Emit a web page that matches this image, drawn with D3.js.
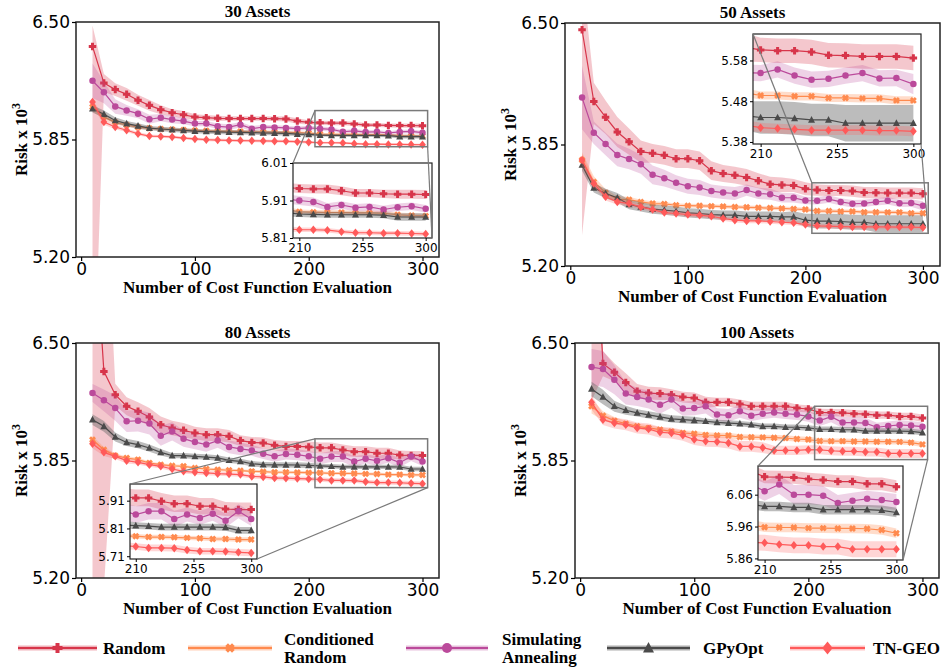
<!DOCTYPE html>
<html>
<head>
<meta charset="utf-8">
<script src="https://cdnjs.cloudflare.com/ajax/libs/d3/7.8.5/d3.min.js"></script>
<style>
  body { margin: 0; background: #fff; }
  .tick text { font-family: "DejaVu Sans", sans-serif; fill: #000; }
  .serif { font-family: "Liberation Serif", "Times New Roman", serif; font-weight: bold; fill: #000; }
</style>
</head>
<body>
<svg id="chart" width="944" height="671"></svg>
<script>
// x positions: number of cost function evaluations
const evals = [10, 20, 30, 40, 50, 60, 70, 80, 90, 100, 110, 120, 130, 140, 150, 160, 170, 180, 190, 200, 210, 220, 230, 240, 250, 260, 270, 280, 290, 300];

// ---- 30 assets ----
const p30RandomMean = [6.365, 6.163, 6.126, 6.100, 6.067, 6.039, 6.015, 5.998, 5.987, 5.974, 5.971, 5.967, 5.966, 5.966, 5.966, 5.966, 5.965, 5.964, 5.952, 5.945, 5.942, 5.941, 5.941, 5.936, 5.930, 5.930, 5.928, 5.927, 5.927, 5.926];
const p30RandomUp = [0.115, 0.05, 0.035, 0.035, 0.03, 0.03, 0.025, 0.02, 0.02, 0.015, 0.015, 0.015, 0.012, 0.012, 0.012, 0.012, 0.012, 0.014, 0.015, 0.012, 0.012, 0.012, 0.012, 0.012, 0.011, 0.011, 0.011, 0.012, 0.012, 0.012];
const p30RandomDown = [2.1, 0.05, 0.035, 0.035, 0.03, 0.03, 0.025, 0.02, 0.02, 0.015, 0.015, 0.015, 0.012, 0.012, 0.012, 0.012, 0.012, 0.014, 0.015, 0.012, 0.012, 0.012, 0.012, 0.012, 0.011, 0.011, 0.011, 0.012, 0.012, 0.012];
const p30CondMean = [6.030, 5.975, 5.945, 5.930, 5.918, 5.912, 5.908, 5.905, 5.903, 5.900, 5.898, 5.896, 5.895, 5.894, 5.893, 5.892, 5.890, 5.889, 5.888, 5.886, 5.880, 5.879, 5.878, 5.878, 5.877, 5.877, 5.876, 5.872, 5.870, 5.869];
const p30CondSd = [0.025, 0.015, 0.012, 0.01, 0.01, 0.008, 0.008, 0.008, 0.008, 0.008, 0.008, 0.008, 0.008, 0.008, 0.008, 0.008, 0.008, 0.008, 0.008, 0.008, 0.006, 0.006, 0.006, 0.006, 0.006, 0.006, 0.006, 0.006, 0.006, 0.006];
const p30SaMean = [6.175, 6.111, 6.033, 6.011, 5.993, 5.962, 5.971, 5.960, 5.952, 5.938, 5.938, 5.923, 5.919, 5.932, 5.910, 5.919, 5.917, 5.914, 5.910, 5.914, 5.910, 5.906, 5.893, 5.898, 5.891, 5.893, 5.886, 5.892, 5.895, 5.888];
const p30SaSd = [0.095, 0.06, 0.04, 0.03, 0.025, 0.025, 0.02, 0.02, 0.018, 0.015, 0.015, 0.015, 0.015, 0.015, 0.015, 0.012, 0.012, 0.012, 0.012, 0.012, 0.012, 0.012, 0.01, 0.01, 0.01, 0.01, 0.01, 0.01, 0.01, 0.01];
const p30GpMean = [6.020, 5.990, 5.955, 5.938, 5.925, 5.913, 5.908, 5.904, 5.900, 5.896, 5.894, 5.892, 5.890, 5.889, 5.888, 5.886, 5.885, 5.884, 5.880, 5.878, 5.874, 5.873, 5.872, 5.872, 5.872, 5.872, 5.871, 5.866, 5.866, 5.866];
const p30GpSd = [0.02, 0.02, 0.018, 0.015, 0.015, 0.012, 0.012, 0.012, 0.012, 0.012, 0.012, 0.012, 0.012, 0.012, 0.012, 0.012, 0.012, 0.012, 0.01, 0.01, 0.008, 0.008, 0.008, 0.008, 0.008, 0.008, 0.008, 0.01, 0.01, 0.01];
const p30TnMean = [6.057, 5.947, 5.919, 5.901, 5.882, 5.869, 5.867, 5.864, 5.858, 5.853, 5.849, 5.847, 5.845, 5.844, 5.843, 5.842, 5.841, 5.840, 5.838, 5.835, 5.832, 5.832, 5.831, 5.827, 5.824, 5.824, 5.823, 5.823, 5.822, 5.821];
const p30TnSd = [0.02, 0.015, 0.012, 0.01, 0.01, 0.008, 0.008, 0.008, 0.008, 0.008, 0.008, 0.008, 0.008, 0.008, 0.008, 0.008, 0.008, 0.008, 0.008, 0.008, 0.006, 0.006, 0.006, 0.006, 0.006, 0.006, 0.006, 0.006, 0.006, 0.006];

// ---- 50 assets ----
const p50RandomMean = [6.464, 6.080, 5.996, 5.917, 5.865, 5.812, 5.803, 5.792, 5.774, 5.774, 5.763, 5.710, 5.695, 5.686, 5.674, 5.656, 5.638, 5.634, 5.631, 5.613, 5.606, 5.604, 5.604, 5.601, 5.593, 5.592, 5.590, 5.590, 5.590, 5.586];
const p50RandomUp = [0.3, 0.1, 0.09, 0.08, 0.07, 0.06, 0.05, 0.05, 0.05, 0.05, 0.05, 0.05, 0.045, 0.045, 0.045, 0.04, 0.04, 0.04, 0.035, 0.035, 0.03, 0.03, 0.03, 0.03, 0.03, 0.03, 0.03, 0.03, 0.03, 0.03];
const p50RandomDown = [1.1, 0.12, 0.09, 0.08, 0.07, 0.06, 0.05, 0.05, 0.05, 0.05, 0.05, 0.05, 0.045, 0.045, 0.045, 0.04, 0.04, 0.04, 0.035, 0.035, 0.03, 0.03, 0.03, 0.03, 0.03, 0.03, 0.03, 0.03, 0.03, 0.03];
const p50CondMean = [5.767, 5.650, 5.592, 5.558, 5.555, 5.543, 5.534, 5.532, 5.525, 5.523, 5.522, 5.520, 5.518, 5.516, 5.514, 5.512, 5.510, 5.508, 5.505, 5.502, 5.494, 5.494, 5.492, 5.492, 5.488, 5.488, 5.487, 5.487, 5.482, 5.482];
const p50CondSd = [0.04, 0.03, 0.02, 0.015, 0.015, 0.012, 0.012, 0.01, 0.01, 0.01, 0.01, 0.01, 0.01, 0.01, 0.01, 0.01, 0.01, 0.01, 0.01, 0.01, 0.01, 0.01, 0.01, 0.01, 0.01, 0.01, 0.01, 0.01, 0.01, 0.01];
const p50SaMean = [6.101, 5.913, 5.853, 5.794, 5.772, 5.744, 5.688, 5.670, 5.645, 5.627, 5.620, 5.601, 5.593, 5.588, 5.606, 5.588, 5.584, 5.565, 5.565, 5.550, 5.549, 5.558, 5.543, 5.533, 5.535, 5.543, 5.549, 5.536, 5.537, 5.522];
const p50SaSd = [0.17, 0.06, 0.06, 0.06, 0.055, 0.05, 0.05, 0.045, 0.04, 0.04, 0.04, 0.035, 0.035, 0.035, 0.03, 0.03, 0.03, 0.025, 0.025, 0.02, 0.02, 0.02, 0.02, 0.02, 0.02, 0.02, 0.02, 0.02, 0.02, 0.025];
const p50GpMean = [5.740, 5.618, 5.588, 5.565, 5.529, 5.516, 5.504, 5.499, 5.493, 5.484, 5.481, 5.475, 5.472, 5.472, 5.466, 5.466, 5.466, 5.463, 5.463, 5.445, 5.440, 5.440, 5.438, 5.434, 5.434, 5.426, 5.426, 5.426, 5.426, 5.426];
const p50GpSd = [0.03, 0.025, 0.025, 0.025, 0.025, 0.025, 0.025, 0.025, 0.025, 0.025, 0.025, 0.025, 0.025, 0.025, 0.025, 0.025, 0.025, 0.025, 0.03, 0.035, 0.04, 0.04, 0.04, 0.04, 0.04, 0.045, 0.045, 0.045, 0.045, 0.045];
const p50TnMean = [5.767, 5.642, 5.570, 5.543, 5.534, 5.516, 5.502, 5.486, 5.481, 5.475, 5.472, 5.466, 5.454, 5.445, 5.441, 5.441, 5.438, 5.434, 5.431, 5.422, 5.415, 5.413, 5.411, 5.409, 5.409, 5.409, 5.409, 5.408, 5.408, 5.406];
const p50TnSd = [0.03, 0.02, 0.02, 0.015, 0.015, 0.012, 0.012, 0.012, 0.012, 0.012, 0.012, 0.012, 0.012, 0.012, 0.012, 0.012, 0.012, 0.012, 0.012, 0.012, 0.012, 0.012, 0.012, 0.012, 0.012, 0.012, 0.012, 0.012, 0.012, 0.012];

// ---- 80 assets ----
const p80RandomMean = [7.32, 6.343, 6.214, 6.150, 6.122, 6.091, 6.048, 6.030, 6.017, 6.002, 5.993, 5.993, 5.984, 5.960, 5.950, 5.947, 5.934, 5.928, 5.928, 5.925, 5.920, 5.920, 5.908, 5.899, 5.899, 5.890, 5.890, 5.880, 5.878, 5.878];
const p80RandomUp = [1.5, 1.2, 0.06, 0.05, 0.05, 0.05, 0.045, 0.04, 0.04, 0.035, 0.035, 0.035, 0.035, 0.03, 0.03, 0.03, 0.03, 0.03, 0.03, 0.03, 0.03, 0.03, 0.03, 0.03, 0.03, 0.03, 0.03, 0.025, 0.025, 0.025];
const p80RandomDown = [3.0, 1.2, 0.06, 0.05, 0.05, 0.05, 0.045, 0.04, 0.04, 0.035, 0.035, 0.035, 0.035, 0.03, 0.03, 0.03, 0.03, 0.03, 0.03, 0.03, 0.03, 0.03, 0.03, 0.03, 0.03, 0.03, 0.03, 0.025, 0.025, 0.025];
const p80CondMean = [5.965, 5.910, 5.877, 5.864, 5.855, 5.836, 5.827, 5.821, 5.818, 5.809, 5.803, 5.799, 5.796, 5.794, 5.790, 5.788, 5.785, 5.785, 5.784, 5.783, 5.782, 5.779, 5.779, 5.778, 5.776, 5.775, 5.772, 5.772, 5.770, 5.770];
const p80CondSd = [0.02, 0.015, 0.012, 0.01, 0.01, 0.008, 0.008, 0.008, 0.008, 0.008, 0.008, 0.008, 0.008, 0.008, 0.008, 0.008, 0.008, 0.008, 0.008, 0.008, 0.008, 0.008, 0.008, 0.008, 0.008, 0.008, 0.008, 0.008, 0.008, 0.008];
const p80SaMean = [6.223, 6.183, 6.140, 6.067, 6.070, 6.054, 5.987, 6.011, 5.971, 5.952, 5.938, 5.960, 5.925, 5.914, 5.906, 5.888, 5.873, 5.886, 5.882, 5.873, 5.860, 5.872, 5.872, 5.844, 5.860, 5.848, 5.863, 5.838, 5.872, 5.844];
const p80SaSd = [0.05, 0.06, 0.07, 0.06, 0.06, 0.06, 0.055, 0.05, 0.045, 0.04, 0.04, 0.04, 0.035, 0.035, 0.03, 0.03, 0.03, 0.03, 0.03, 0.03, 0.03, 0.03, 0.03, 0.03, 0.025, 0.025, 0.025, 0.025, 0.025, 0.025];
const p80GpMean = [6.076, 6.039, 5.980, 5.950, 5.938, 5.919, 5.895, 5.877, 5.877, 5.873, 5.869, 5.864, 5.851, 5.845, 5.832, 5.827, 5.826, 5.826, 5.825, 5.823, 5.820, 5.818, 5.815, 5.815, 5.815, 5.815, 5.815, 5.814, 5.803, 5.803];
const p80GpSd = [0.03, 0.03, 0.025, 0.02, 0.02, 0.02, 0.018, 0.015, 0.015, 0.015, 0.015, 0.015, 0.015, 0.015, 0.015, 0.015, 0.015, 0.015, 0.015, 0.015, 0.012, 0.012, 0.012, 0.012, 0.012, 0.012, 0.012, 0.012, 0.012, 0.012];
const p80TnMean = [5.943, 5.895, 5.873, 5.849, 5.840, 5.827, 5.818, 5.803, 5.790, 5.785, 5.781, 5.777, 5.775, 5.772, 5.762, 5.759, 5.753, 5.752, 5.750, 5.748, 5.745, 5.740, 5.740, 5.739, 5.732, 5.728, 5.728, 5.727, 5.724, 5.722];
const p80TnSd = [0.025, 0.02, 0.015, 0.015, 0.012, 0.012, 0.012, 0.012, 0.012, 0.012, 0.012, 0.012, 0.012, 0.012, 0.012, 0.012, 0.012, 0.012, 0.012, 0.012, 0.012, 0.012, 0.012, 0.012, 0.012, 0.012, 0.012, 0.012, 0.012, 0.012];

// ---- 100 assets ----
const p100RandomMean = [7.53, 6.386, 6.338, 6.282, 6.233, 6.223, 6.220, 6.214, 6.201, 6.196, 6.172, 6.172, 6.172, 6.163, 6.150, 6.150, 6.150, 6.150, 6.140, 6.135, 6.116, 6.115, 6.114, 6.109, 6.106, 6.101, 6.101, 6.094, 6.094, 6.085];
const p100RandomUp = [1.0, 0.07, 0.05, 0.05, 0.04, 0.035, 0.035, 0.03, 0.03, 0.03, 0.03, 0.025, 0.025, 0.025, 0.025, 0.025, 0.025, 0.025, 0.02, 0.02, 0.02, 0.02, 0.02, 0.02, 0.02, 0.02, 0.02, 0.02, 0.02, 0.02];
const p100RandomDown = [1.35, 0.07, 0.05, 0.05, 0.04, 0.035, 0.035, 0.03, 0.03, 0.03, 0.03, 0.025, 0.025, 0.025, 0.025, 0.025, 0.025, 0.025, 0.02, 0.02, 0.02, 0.02, 0.02, 0.02, 0.02, 0.02, 0.02, 0.02, 0.02, 0.02];
const p100CondMean = [6.150, 6.098, 6.070, 6.054, 6.039, 6.030, 6.021, 6.011, 6.002, 5.998, 5.991, 5.989, 5.988, 5.980, 5.979, 5.978, 5.976, 5.974, 5.969, 5.966, 5.958, 5.957, 5.957, 5.955, 5.955, 5.954, 5.954, 5.953, 5.949, 5.939];
const p100CondSd = [0.04, 0.025, 0.02, 0.015, 0.015, 0.015, 0.015, 0.015, 0.015, 0.015, 0.015, 0.015, 0.015, 0.015, 0.015, 0.015, 0.015, 0.015, 0.015, 0.015, 0.015, 0.015, 0.015, 0.015, 0.015, 0.015, 0.015, 0.015, 0.015, 0.015];
const p100SaMean = [6.367, 6.356, 6.297, 6.220, 6.201, 6.187, 6.159, 6.187, 6.137, 6.140, 6.150, 6.104, 6.100, 6.122, 6.098, 6.109, 6.116, 6.109, 6.104, 6.094, 6.071, 6.092, 6.060, 6.060, 6.057, 6.034, 6.041, 6.047, 6.043, 6.037];
const p100SaSd = [0.1, 0.1, 0.08, 0.06, 0.05, 0.05, 0.05, 0.045, 0.04, 0.04, 0.04, 0.035, 0.035, 0.035, 0.03, 0.03, 0.03, 0.03, 0.03, 0.03, 0.03, 0.03, 0.03, 0.03, 0.03, 0.025, 0.025, 0.025, 0.025, 0.025];
const p100GpMean = [6.246, 6.201, 6.150, 6.128, 6.113, 6.102, 6.091, 6.080, 6.076, 6.072, 6.067, 6.061, 6.057, 6.054, 6.048, 6.039, 6.039, 6.034, 6.034, 6.030, 6.023, 6.023, 6.020, 6.020, 6.013, 6.013, 6.013, 6.013, 6.011, 6.004];
const p100GpSd = [0.04, 0.04, 0.03, 0.025, 0.02, 0.02, 0.02, 0.02, 0.02, 0.02, 0.015, 0.015, 0.015, 0.015, 0.015, 0.015, 0.015, 0.015, 0.015, 0.015, 0.015, 0.015, 0.015, 0.015, 0.015, 0.015, 0.015, 0.015, 0.015, 0.015];
const p100TnMean = [6.172, 6.076, 6.057, 6.048, 6.030, 6.024, 6.006, 6.002, 5.989, 5.966, 5.956, 5.954, 5.947, 5.928, 5.928, 5.921, 5.906, 5.906, 5.906, 5.910, 5.909, 5.904, 5.901, 5.901, 5.897, 5.897, 5.889, 5.889, 5.889, 5.889];
const p100TnSd = [0.04, 0.03, 0.03, 0.03, 0.03, 0.03, 0.03, 0.03, 0.03, 0.03, 0.03, 0.03, 0.03, 0.03, 0.03, 0.03, 0.025, 0.025, 0.025, 0.025, 0.025, 0.025, 0.025, 0.025, 0.025, 0.025, 0.025, 0.025, 0.025, 0.025];

const mainYTicks = [5.20, 5.85, 6.50];
const mainXTicks = [0, 100, 200, 300];
const insetXTicks = [210, 255, 300];

const methods = [
  { key: 'random', label: ['Random'], color: '#d7354a', band: '#d7354a', bandOpacity: 0.28, marker: 'plus' },
  { key: 'cond', label: ['Conditioned', 'Random'], color: '#ff8a4e', band: '#ff8a4e', bandOpacity: 0.3, marker: 'x' },
  { key: 'sa', label: ['Simulating', 'Annealing'], color: '#bb4a9b', band: '#bb4a9b', bandOpacity: 0.25, marker: 'circle' },
  { key: 'gp', label: ['GPyOpt'], color: '#4a4a4a', band: '#6a6a6a', bandOpacity: 0.45, marker: 'triangle' },
  { key: 'tn', label: ['TN-GEO'], color: '#ff5a5a', band: '#ff5a5a', bandOpacity: 0.25, marker: 'diamond' }
];

const panels = [
  { title: '30 Assets', frame: [76, 22, 439, 257], inset: [293, 163, 432, 238], insetY: [5.81, 6.01], insetTicks: [5.81, 5.91, 6.01],
    data: { random: [p30RandomMean, p30RandomUp, p30RandomDown], cond: [p30CondMean, p30CondSd], sa: [p30SaMean, p30SaSd], gp: [p30GpMean, p30GpSd], tn: [p30TnMean, p30TnSd] } },
  { title: '50 Assets', frame: [565, 23, 940, 266], inset: [753, 34, 921, 144], insetY: [5.375, 5.645], insetTicks: [5.38, 5.48, 5.58],
    data: { random: [p50RandomMean, p50RandomUp, p50RandomDown], cond: [p50CondMean, p50CondSd], sa: [p50SaMean, p50SaSd], gp: [p50GpMean, p50GpSd], tn: [p50TnMean, p50TnSd] } },
  { title: '80 Assets', frame: [76, 343, 439, 578], inset: [130, 484, 257, 559], insetY: [5.70, 5.97], insetTicks: [5.71, 5.81, 5.91],
    data: { random: [p80RandomMean, p80RandomUp, p80RandomDown], cond: [p80CondMean, p80CondSd], sa: [p80SaMean, p80SaSd], gp: [p80GpMean, p80GpSd], tn: [p80TnMean, p80TnSd] } },
  { title: '100 Assets', frame: [575, 343, 939, 578], inset: [758, 466, 903, 560], insetY: [5.855, 6.15], insetTicks: [5.86, 5.96, 6.06],
    data: { random: [p100RandomMean, p100RandomUp, p100RandomDown], cond: [p100CondMean, p100CondSd], sa: [p100SaMean, p100SaSd], gp: [p100GpMean, p100GpSd], tn: [p100TnMean, p100TnSd] } }
];

function markerPath(type, s) {
  if (type === 'plus' || type === 'x') {
    const a = s / 2, t = s * 0.2;
    let pts = [[-t, -a], [t, -a], [t, -t], [a, -t], [a, t], [t, t], [t, a], [-t, a], [-t, t], [-a, t], [-a, -t], [-t, -t]];
    if (type === 'x') pts = pts.map(([px, py]) => [(px - py) * Math.SQRT1_2, (px + py) * Math.SQRT1_2]);
    return 'M' + pts.map(p => p[0].toFixed(2) + ',' + p[1].toFixed(2)).join('L') + 'Z';
  }
  if (type === 'circle') { const r = s / 2; return `M${r},0A${r},${r} 0 1,1 ${-r},0A${r},${r} 0 1,1 ${r},0Z`; }
  if (type === 'triangle') return `M0,${-s * 0.55}L${s / 2},${s * 0.4}L${-s / 2},${s * 0.4}Z`;
  const a = s / 2;
  return `M0,${-a}L${a * 0.8},0L0,${a}L${-a * 0.8},0Z`;
}
const markerSize = { plus: 7.5, x: 7, circle: 6.5, triangle: 7, diamond: 8.5 };

const svg = d3.select('#chart');
const defs = svg.append('defs');
let clipCount = 0;

function drawSeries(g, x, y, p, x0, y0, w, h) {
  const id = 'clip' + (clipCount++);
  defs.append('clipPath').attr('id', id).append('rect').attr('x', x0).attr('y', y0).attr('width', w).attr('height', h);
  const cg = g.append('g').attr('clip-path', `url(#${id})`);
  methods.forEach(m => {
    const [mean, up, down0] = p.data[m.key];
    const down = down0 || up;
    const area = d3.area()
      .x((d, i) => x(evals[i]))
      .y0((d, i) => y(d - down[i]))
      .y1((d, i) => y(d + up[i]));
    cg.append('path').datum(mean).attr('d', area).attr('fill', m.band).attr('fill-opacity', m.bandOpacity);
    const line = d3.line().x((d, i) => x(evals[i])).y(d => y(d));
    cg.append('path').datum(mean).attr('d', line).attr('fill', 'none').attr('stroke', m.color).attr('stroke-width', 1.2);
    cg.selectAll(null).data(mean).join('path')
      .attr('transform', (d, i) => `translate(${x(evals[i])},${y(d)})`)
      .attr('d', markerPath(m.marker, markerSize[m.marker]))
      .attr('fill', m.color);
  });
}

panels.forEach(p => {
  const [L, T, R, B] = p.frame;
  const g = svg.append('g');
  const x = d3.scaleLinear().domain([-4.5, 314.5]).range([L, R]);
  const y = d3.scaleLinear().domain([5.2, 6.5]).range([B, T]);

  drawSeries(g, x, y, p, L, T, R - L, B - T);

  g.append('rect').attr('x', L).attr('y', T).attr('width', R - L).attr('height', B - T)
    .attr('fill', 'none').attr('stroke', '#222').attr('stroke-width', 1.5);

  const xa = g.append('g').attr('transform', `translate(0,${B})`)
    .call(d3.axisBottom(x).tickValues(mainXTicks).tickSize(4).tickPadding(1.5));
  const ya = g.append('g').attr('transform', `translate(${L},0)`)
    .call(d3.axisLeft(y).tickValues(mainYTicks).tickSize(4).tickPadding(2).tickFormat(d3.format('.2f')));
  [xa, ya].forEach(a => {
    a.select('.domain').remove();
    a.selectAll('.tick line').attr('stroke', '#000').attr('stroke-width', 1.2);
    a.selectAll('.tick text').style('font-size', '17px');
  });

  g.append('text').attr('class', 'serif').attr('x', (L + R) / 2).attr('y', T - 5)
    .attr('text-anchor', 'middle').style('font-size', '17px').text(p.title);
  g.append('text').attr('class', 'serif').attr('x', (L + R) / 2).attr('y', B + 36)
    .attr('text-anchor', 'middle').style('font-size', '17px').text('Number of Cost Function Evaluation');
  const yl = g.append('text').attr('class', 'serif')
    .attr('transform', `translate(${L - 49},${(T + B) / 2}) rotate(-90)`)
    .attr('text-anchor', 'middle').style('font-size', '17px');
  yl.append('tspan').text('Risk x 10');
  yl.append('tspan').attr('dy', -7).style('font-size', '12px').text('3');

  // inset
  const [iL, iT, iR, iB] = p.inset;
  const ix = d3.scaleLinear().domain([205.5, 304.5]).range([iL, iR]);
  const iy = d3.scaleLinear().domain(p.insetY).range([iB, iT]);
  const ig = svg.append('g');
  ig.append('rect').attr('x', iL).attr('y', iT).attr('width', iR - iL).attr('height', iB - iT).attr('fill', '#fff');
  drawSeries(ig, ix, iy, p, iL, iT, iR - iL, iB - iT);
  ig.append('rect').attr('x', iL).attr('y', iT).attr('width', iR - iL).attr('height', iB - iT)
    .attr('fill', 'none').attr('stroke', '#222').attr('stroke-width', 1.2);
  const ixa = ig.append('g').attr('transform', `translate(0,${iB})`)
    .call(d3.axisBottom(ix).tickValues(insetXTicks).tickSize(3).tickPadding(2));
  const iya = ig.append('g').attr('transform', `translate(${iL},0)`)
    .call(d3.axisLeft(iy).tickValues(p.insetTicks).tickSize(3).tickPadding(2).tickFormat(d3.format('.2f')));
  [ixa, iya].forEach(a => {
    a.select('.domain').remove();
    a.selectAll('.tick line').attr('stroke', '#000').attr('stroke-width', 1);
    a.selectAll('.tick text').style('font-size', '12px');
  });

  // zoom region marker and connectors
  const rx0 = x(205.5), rx1 = x(304.5), ry0 = y(p.insetY[1]), ry1 = y(p.insetY[0]);
  svg.append('rect').attr('x', rx0).attr('y', ry0).attr('width', rx1 - rx0).attr('height', ry1 - ry0)
    .attr('fill', 'none').attr('stroke', '#7a7a7a').attr('stroke-width', 1.5);
  svg.append('line').attr('x1', rx0).attr('y1', ry0).attr('x2', iL).attr('y2', iT)
    .attr('stroke', '#7a7a7a').attr('stroke-width', 1.2);
  svg.append('line').attr('x1', rx1).attr('y1', ry1).attr('x2', iR).attr('y2', iB)
    .attr('stroke', '#7a7a7a').attr('stroke-width', 1.2);
});

// legend
const legendPos = [
  { x0: 18, x1: 97, tx: 103 },
  { x0: 188, x1: 272, tx: 284 },
  { x0: 406, x1: 488, tx: 502 },
  { x0: 607, x1: 690, tx: 703 },
  { x0: 790, x1: 865, tx: 873 }
];
const legendMarker = { plus: 10, x: 9.5, circle: 10, triangle: 11, diamond: 13 };
const ly = 648;
methods.forEach((m, i) => {
  const pos = legendPos[i];
  const lg = svg.append('g');
  lg.append('rect').attr('x', pos.x0).attr('y', ly - 2.5).attr('width', pos.x1 - pos.x0).attr('height', 5)
    .attr('fill', m.band).attr('fill-opacity', m.bandOpacity + 0.1);
  lg.append('line').attr('x1', pos.x0).attr('x2', pos.x1).attr('y1', ly).attr('y2', ly)
    .attr('stroke', m.color).attr('stroke-width', 1.8);
  lg.append('path').attr('transform', `translate(${(pos.x0 + pos.x1) / 2},${ly})`)
    .attr('d', markerPath(m.marker, legendMarker[m.marker])).attr('fill', m.color);
  const t = lg.append('text').attr('class', 'serif').style('font-size', '17px');
  if (m.label.length === 1) {
    t.attr('x', pos.tx).attr('y', ly + 6).text(m.label[0]);
  } else {
    m.label.forEach((s, j) => t.append('tspan').attr('x', pos.tx).attr('y', ly - 3 + j * 18).text(s));
  }
});
</script>
</body>
</html>
